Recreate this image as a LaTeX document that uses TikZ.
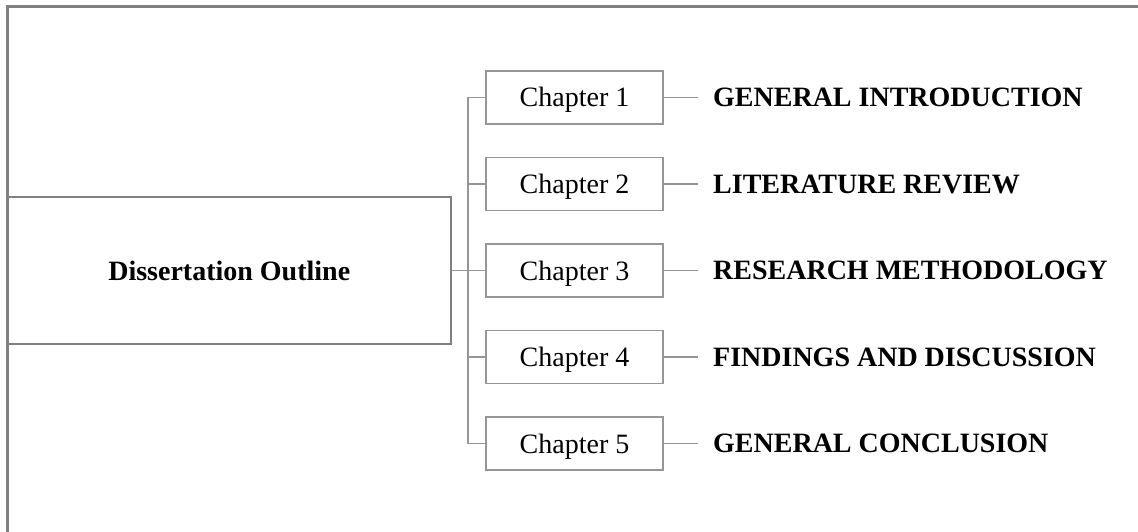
\documentclass[tikz,border=0pt]{standalone}
\usepackage{fontspec}
\setmainfont{Liberation Serif}
\usepackage{tikz}
\definecolor{framegray}{RGB}{128,128,128}
\definecolor{boxgray}{RGB}{150,150,150}
\tikzset{%
    mainbox/.style={%
        draw=framegray, line width=2.5pt, minimum width=443.5pt,
        minimum height=147pt, inner sep=0pt,
        font=\fontsize{28}{34}\selectfont\bfseries
    },
    chapbox/.style={%
        draw=boxgray, line width=1.5pt, minimum width=177pt,
        minimum height=53pt, inner sep=0pt, text height=19pt, text depth=0pt,
        font=\fontsize{28}{34}\selectfont
    },
    chaplabel/.style={%
        anchor=west, inner xsep=15pt, inner ysep=0pt,
        font=\fontsize{28}{34}\selectfont\bfseries
    },
    conn/.style={draw=boxgray, line width=1.5pt}
}

\begin{document}
\begin{tikzpicture}[x=1pt,y=1pt]
\useasboundingbox (0,0) rectangle (1138,-532);
\draw[framegray, line width=2.5pt] (7.5,-6.5) rectangle (1200,-600);
\node[mainbox] (main) at (229.25,-270.5) {Dissertation Outline};
\coordinate (trunk) at (468,-270.5);
\foreach \i/\t in {1/GENERAL INTRODUCTION, 2/LITERATURE REVIEW,
    3/RESEARCH METHODOLOGY, 4/FINDINGS AND DISCUSSION,
    5/GENERAL CONCLUSION} {
    \node[chapbox] (ch\i) at (574.5,{-97.5-86.5*(\i-1)}) {Chapter \i};
    \node[chaplabel] (lab\i) at (698,{-97.5-86.5*(\i-1)}) {\t};
    \draw[conn] (ch\i.east) -- (lab\i.west);
    \draw[conn] (trunk |- ch\i) -- (ch\i.west);
}
\draw[conn] (main.east) -- (trunk);
\draw[conn] (trunk |- ch1) -- (trunk |- ch5);
\end{tikzpicture}
\end{document}
